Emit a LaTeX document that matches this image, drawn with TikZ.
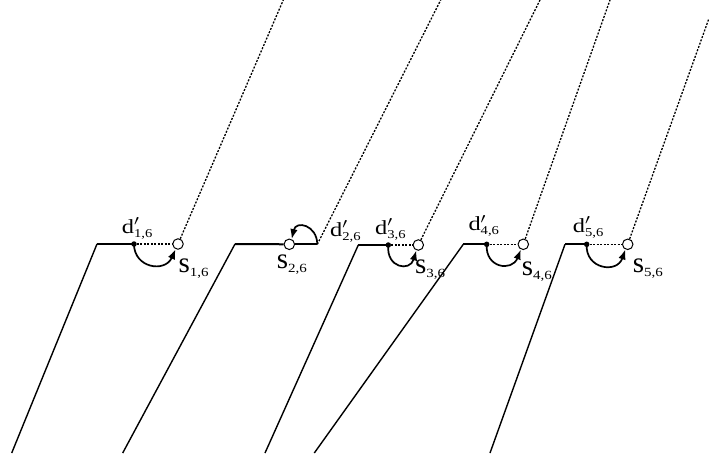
\documentclass[tikz,border=0pt]{standalone}
\usepackage{fontspec}
\setmainfont{Liberation Serif}
\usetikzlibrary{arrows.meta}
\newcommand{\dlab}[1]{\scalebox{1.22}[1]{\fontsize{20}{21}\selectfont d\rlap{$'$}\raisebox{-4pt}{\fontsize{12}{13}\selectfont #1}}}
\newcommand{\slab}[1]{{\fontsize{29}{30}\selectfont s}\raisebox{-4pt}{\scalebox{1.2}[1]{\fontsize{12.5}{13}\selectfont #1}}}
\tikzset{
  solidln/.style={line width=1.4pt},
  horiz/.style={line width=2pt},
  dotln/.style={line width=1.3pt, dash pattern=on 2pt off 1.5pt},
  hdot/.style={line width=1.6pt, dash pattern=on 2pt off 1.5pt},
  dotn/.style={circle, fill=black, inner sep=0pt, minimum size=5.5pt},
  opn/.style={circle, draw=black, fill=white, line width=1pt, inner sep=0pt, minimum size=10.5pt},
  arcarrow/.style={line width=1.7pt, -{Latex[length=10pt,width=7.5pt]}},
  lab/.style={inner sep=0pt, anchor=base west},
}
\begin{document}
\begin{tikzpicture}[x=1pt,y=-1pt]
\useasboundingbox (0,0) rectangle (709,461);
% ---------- group 1
\coordinate (b1) at (11.7,453);
\coordinate (c1) at (97,244);
\node[dotn] (d1) at (134,244) {};
\node[opn] (s1) at (178,244) {};
\coordinate (t1) at (283.3,0);
\draw[solidln] (b1) -- (c1);
\draw[horiz] (c1) -- (d1.center);
\draw[hdot] (d1) -- (s1);
\draw[dotln] (s1) -- (t1);
\draw[arcarrow] (d1.center) .. controls (134,268) and (165,273) .. (s1.245);
\node[lab] (ld1) at (121.7,233.3) {\dlab{1,6}};
\node[lab] (ls1) at (178.3,272.7) {\slab{1,6}};
% ---------- group 2
\coordinate (b2) at (122.7,453);
\coordinate (c2) at (235,244);
\node[opn] (s2) at (289.3,244.3) {};
\coordinate (p2) at (317.3,244.3);
\coordinate (t2) at (440.7,0);
\draw[solidln] (b2) -- (c2);
\draw[horiz] (c2) -- (s2);
\draw[horiz] (s2) -- (p2);
\draw[dotln] (p2) -- (t2);
\draw[arcarrow] (p2) .. controls (317,225) and (296,220) .. (s2.65);
\node[lab] (ls2) at (276.7,268.3) {\slab{2,6}};
\node[lab] (ld2) at (330,236.5) {\dlab{2,6}};
% ---------- group 3
\coordinate (b3) at (265,453);
\coordinate (c3) at (358.3,245);
\node[dotn] (d3) at (388.3,245) {};
\node[opn] (s3) at (418.3,245) {};
\coordinate (t3) at (540,0);
\draw[solidln] (b3) -- (c3);
\draw[horiz] (c3) -- (d3.center);
\draw[hdot] (d3) -- (s3);
\draw[dotln] (s3) -- (t3);
\draw[arcarrow] (d3.center) .. controls (386,268) and (410,272) .. (s3.250);
\node[lab] (ld3) at (375,234.3) {\dlab{3,6}};
\node[lab] (ls3) at (415,273.3) {\slab{3,6}};
% ---------- group 4
\coordinate (b4) at (314.3,453);
\coordinate (c4) at (463.3,244.3);
\node[dotn] (d4) at (486.7,244.3) {};
\node[opn] (s4) at (523.3,244.3) {};
\coordinate (t4) at (610,0);
\draw[solidln] (b4) -- (c4);
\draw[horiz] (c4) -- (d4.center);
\draw[hdot] (d4) -- (s4);
\draw[dotln] (s4) -- (t4);
\draw[arcarrow] (d4.center) .. controls (485,268) and (512,272) .. (s4.245);
\node[lab] (ld4) at (468.3,230.7) {\dlab{4,6}};
\node[lab] (ls4) at (521.7,275.5) {\slab{4,6}};
% ---------- group 5
\coordinate (b5) at (490,453);
\coordinate (c5) at (565,244.3);
\node[dotn] (d5) at (586.7,244.3) {};
\node[opn] (s5) at (627.7,244.3) {};
\coordinate (t5) at (709,18.3);
\draw[solidln] (b5) -- (c5);
\draw[horiz] (c5) -- (d5.center);
\draw[hdot] (d5) -- (s5);
\draw[dotln] (s5) -- (t5);
\draw[arcarrow] (d5.center) .. controls (585,269) and (617,274) .. (s5.245);
\node[lab] (ld5) at (572.7,232.3) {\dlab{5,6}};
\node[lab] (ls5) at (632.7,272.7) {\slab{5,6}};
\end{tikzpicture}
\end{document}
